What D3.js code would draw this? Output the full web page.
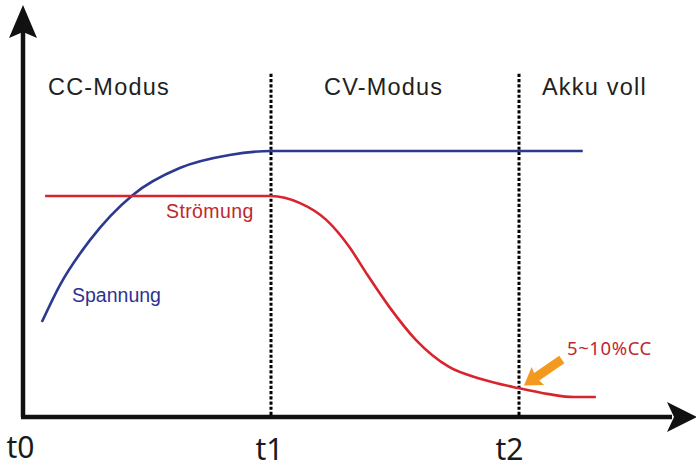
<!DOCTYPE html>
<html>
<head>
  <meta charset="utf-8">
  <title></title>
<style type="text/css">
    body { margin: 0; background: #fff; }
    .phase { font-family: "Liberation Sans", Arial, sans-serif; font-size: 23.5px; fill: #231f20; letter-spacing: 1.2px; }
    .curve-label { font-family: "Liberation Sans", Arial, sans-serif; font-size: 19.5px; }
    .x-axis text { font-family: "Noto Sans", sans-serif; font-size: 30px; fill: #1a1a1a; }
    .note { font-family: "Noto Sans", sans-serif; font-size: 18.5px; fill: #c1272d; letter-spacing: 0.6px; }
</style>
</head>
<script src="https://cdnjs.cloudflare.com/ajax/libs/d3/7.8.5/d3.min.js"></script>
<body>
<script>
  var w = 696;
  var h = 469;

  // time in units of the phase boundaries (t0 = 0, t1 = 1, t2 = 2)
  var tickValues = [0, 1, 2];
  var tickLabels = ["t0", "t1", "t2"];
  var phases = ["CC-Modus", "CV-Modus", "Akku voll"];

  // Spannung (voltage), relative to full charge voltage = 100
  var voltageT = [0.076, 0.149, 0.27, 0.443, 0.632, 0.833, 1.0, 2.257];
  var voltageV = [35.7, 49.6, 66.5, 83.5, 93.6, 98.5, 100, 100];

  // Strömung (current), same relative units
  var currentT = [0.089, 1.0, 1.115, 1.223, 1.316, 1.384, 1.477, 1.585, 1.718, 1.851, 1.996, 2.12, 2.22, 2.31];
  var currentV = [83.1, 83.1, 80.5, 74.1, 63.9, 54.1, 41.4, 28.9, 18.8, 14.2, 10.9, 8.6, 7.5, 7.5];

  var xScale = d3.scaleLinear().domain([0, 2]).range([23, 519]);
  var yScale = d3.scaleLinear().domain([0, 100]).range([417, 151]);

  var svg = d3.select("body").append("svg")
              .attr("width", w)
              .attr("height", h);

  var lineFun = d3.line()
                  .x(function (d) { return xScale(d[0]); })
                  .y(function (d) { return yScale(d[1]); })
                  .curve(d3.curveMonotoneX);

  // phase boundaries
  svg.selectAll("line.bound")
     .data([1, 2])
     .enter().append("line")
     .attr("class", "bound")
     .attr("x1", function (d) { return xScale(d); })
     .attr("x2", function (d) { return xScale(d); })
     .attr("y1", yScale(129))
     .attr("y2", yScale(0))
     .attr("stroke", "#000")
     .attr("stroke-width", 3)
     .attr("stroke-dasharray", "3.2,2");

  // phase labels
  var phaseX = [48, 324, 542];
  svg.selectAll("text.phase")
     .data(phases)
     .enter().append("text")
     .attr("class", "phase")
     .attr("x", function (d, i) { return phaseX[i]; })
     .attr("y", 95)
     .text(function (d) { return d; });

  // curves
  svg.append("path")
     .datum(d3.zip(voltageT, voltageV))
     .attr("d", lineFun)
     .attr("fill", "none")
     .attr("stroke", "#2b3990")
     .attr("stroke-width", 2.6);

  svg.append("path")
     .datum(d3.zip(currentT, currentV))
     .attr("d", lineFun)
     .attr("fill", "none")
     .attr("stroke", "#d9232d")
     .attr("stroke-width", 2.6);

  svg.append("text")
     .attr("class", "curve-label")
     .attr("x", 166).attr("y", 218)
     .attr("fill", "#c1272d")
     .attr("letter-spacing", 0.4)
     .text("Strömung");

  svg.append("text")
     .attr("class", "curve-label")
     .attr("x", 72).attr("y", 302)
     .attr("fill", "#2e3192")
     .text("Spannung");

  // x axis labels
  var labelShift = [[-3, 0], [-2, 2], [-10, 2]];
  var xAxis = d3.axisBottom(xScale)
                .tickValues(tickValues)
                .tickFormat(function (d, i) { return tickLabels[i]; })
                .tickSize(0)
                .tickPadding(0);

  var axisX = svg.append("g")
                 .attr("class", "x-axis")
                 .attr("transform", "translate(0," + yScale(0) + ")")
                 .call(xAxis);
  axisX.select(".domain").remove();
  axisX.selectAll("text")
       .attr("dy", null)
       .attr("x", function (d, i) { return labelShift[i][0]; })
       .attr("y", function (d, i) { return 41 + labelShift[i][1]; });

  // axis lines with arrowheads
  var ox = xScale(0), oy = yScale(0);
  svg.append("line")
     .attr("x1", ox).attr("y1", oy)
     .attr("x2", ox).attr("y2", 30)
     .attr("stroke", "#111").attr("stroke-width", 4.5);
  svg.append("line")
     .attr("x1", ox - 2).attr("y1", oy)
     .attr("x2", 672).attr("y2", oy)
     .attr("stroke", "#111").attr("stroke-width", 4.5);

  svg.append("path")
     .attr("d", "M" + ox + ",5 L" + (ox + 14) + ",38 L" + ox + ",32 L" + (ox - 14) + ",38 Z")
     .attr("fill", "#111");
  svg.append("path")
     .attr("d", "M697," + oy + " L667," + (oy - 15) + " L674," + oy + " L667," + (oy + 15) + " Z")
     .attr("fill", "#111");

  // note arrow pointing at the current at t2
  var tipX = xScale(2.02), tipY = yScale(11.8);
  var ang = Math.atan2(360 - 387, 564 - 525) * 180 / Math.PI;
  svg.append("path")
     .attr("transform", "translate(" + tipX + "," + tipY + ") rotate(" + ang + ")")
     .attr("d", "M0,0 L17,-11 L15.5,-4.5 L46,-4.5 L46,4.5 L15.5,4.5 L17,11 Z")
     .attr("fill", "#f39a1e");

  svg.append("text")
     .attr("class", "note")
     .attr("x", 567).attr("y", 355)
     .text("5~10%CC");
</script>
</body>
</html>
